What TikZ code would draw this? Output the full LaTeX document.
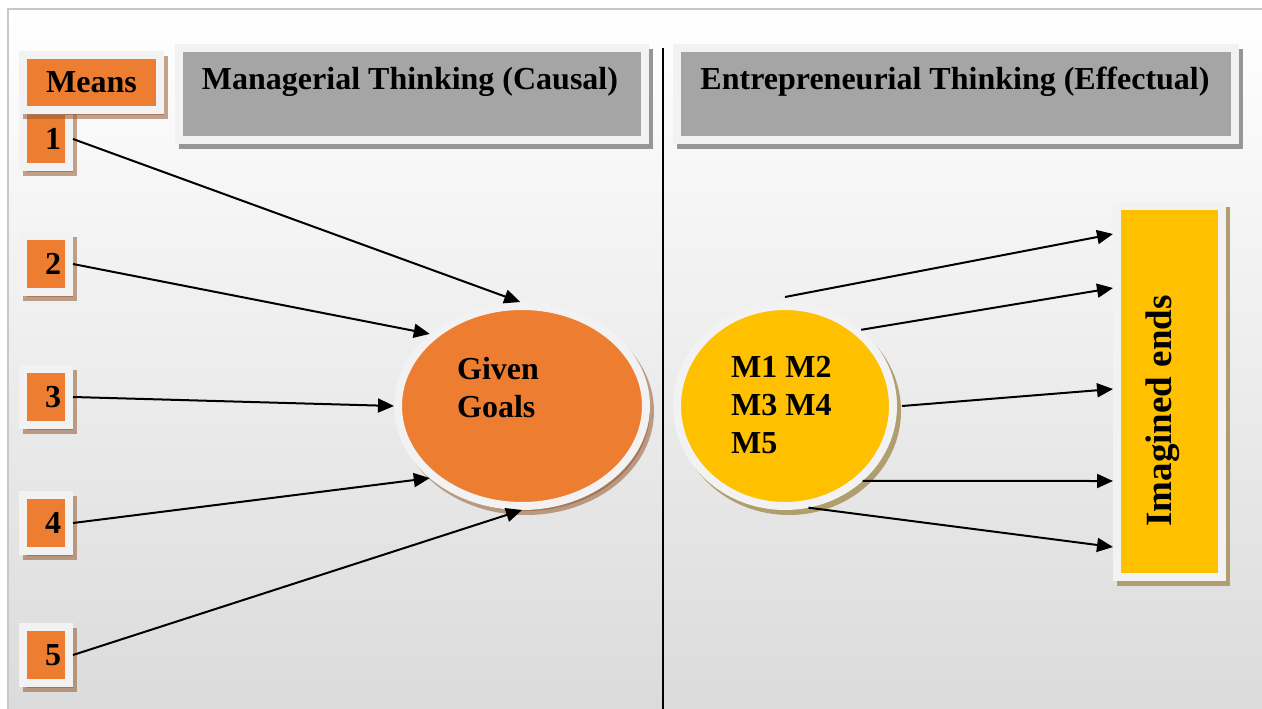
\documentclass[tikz,border=0pt]{standalone}
\usepackage{fontspec}
\setmainfont{Liberation Serif}
\usetikzlibrary{shapes.geometric,shadows,arrows.meta,calc}
\definecolor{orng}{HTML}{ED7D31}
\definecolor{gry}{HTML}{A5A5A5}
\definecolor{ylw}{HTML}{FFC000}
\definecolor{frame}{HTML}{F2F2F2}
\definecolor{oshd}{RGB}{150,90,50}
\definecolor{gshd}{RGB}{150,150,150}
\definecolor{yshd}{RGB}{176,158,110}
\definecolor{bgbot}{RGB}{219,219,219}
\definecolor{bord}{RGB}{200,200,200}
\begin{document}
\begin{tikzpicture}[x=1pt,y=-1pt,
  txt/.style={font=\bfseries\fontsize{32}{38}\selectfont, inner sep=0pt},
  frm/.style={txt, draw=frame, line width=8pt, inner sep=0pt},
  obox/.style={frm, fill=orng, drop shadow={shadow xshift=4pt, shadow yshift=-5pt, fill=oshd, draw=oshd, line width=8pt, opacity=.55}},
  gbox/.style={frm, fill=gry, drop shadow={shadow xshift=4pt, shadow yshift=-5pt, fill=gshd, draw=gshd, line width=8pt, opacity=1}},
  ybox/.style={frm, fill=ylw, drop shadow={shadow xshift=4pt, shadow yshift=-5pt, fill=yshd, draw=yshd, line width=8pt, opacity=1}},
  numbox/.style={obox, minimum width=46pt, minimum height=56pt},
  arr/.style={line width=2pt, -{Triangle[length=16pt,width=14pt]}}
]
\useasboundingbox (0,0) rectangle (1262,709);
\fill[white] (0,0) rectangle (1262,709);
\shade[top color=white, bottom color=bgbot] (9,10) rectangle (1262,709);
\draw[bord, line width=2pt] (8,709) -- (8,9) -- (1262,9);

% divider
\draw[line width=1.5pt] (663,48) -- (663,709);

% number boxes
\node[numbox] (n1) at (46,139) {\hspace*{14pt}1};
\node[numbox] (n2) at (46,264) {\hspace*{14pt}2};
\node[numbox] (n3) at (46,397) {\hspace*{14pt}3};
\node[numbox] (n4) at (46,523) {\hspace*{14pt}4};
\node[numbox] (n5) at (46,655) {\hspace*{14pt}5};
\node[obox, minimum width=137pt, minimum height=55pt] (means) at (91.5,82.5) {Means};

% headers
\node[gbox, minimum width=466pt, minimum height=92pt] (hm) at (412,94) {};
\node[txt] (hmt) at (410,82) {Managerial Thinking (Causal)};
\node[gbox, minimum width=558pt, minimum height=92pt] (he) at (956,94) {};
\node[txt] (het) at (955,82) {Entrepreneurial Thinking (Effectual)};

% ellipses
\node[frm, ellipse, fill=orng, minimum width=248pt, minimum height=200pt,
  drop shadow={shadow xshift=4pt, shadow yshift=-5pt, fill=oshd, draw=oshd, line width=8pt, opacity=.55}] (gg) at (522,406) {};
\node[txt, anchor=west, align=left] (ggt) at (457,388) {Given\\Goals};

\node[frm, ellipse, fill=ylw, minimum width=216pt, minimum height=200pt,
  drop shadow={shadow xshift=4pt, shadow yshift=-5pt, fill=yshd, draw=yshd, line width=8pt, opacity=1}] (mm) at (785,406) {};
\node[txt, anchor=west, align=left] (mmt) at (731,405) {M1 M2\\M3 M4\\M5};

% imagined ends
\node[ybox, minimum width=105pt, minimum height=371pt] (ie) at (1169.5,391.5) {};
\node[font=\bfseries\fontsize{37}{40}\selectfont, inner sep=0pt, rotate=90] (iet) at (1163,411) {Imagined ends};

% left arrows
\draw[arr] (n1.east) -- (gg.91);
\draw[arr] (n2.east) -- (gg.142);
\draw[arr] (n3.east) -- (gg.west);
\draw[arr] (n4.east) -- (gg.218);
\draw[arr] (n5.east) -- (gg.south);

% right arrows
\draw[arr] ([yshift=5pt]mm.north) -- ([yshift=157.5pt]ie.west);
\draw[arr] (mm.45) -- ([yshift=103.5pt]ie.west);
\draw[arr] ([xshift=5pt]mm.east) -- ([yshift=2.5pt]ie.west);
\draw[arr] (mm.316) -- ([yshift=-89.5pt]ie.west);
\draw[arr] (mm.283) -- ([yshift=-155.5pt]ie.west);
\end{tikzpicture}
\end{document}
